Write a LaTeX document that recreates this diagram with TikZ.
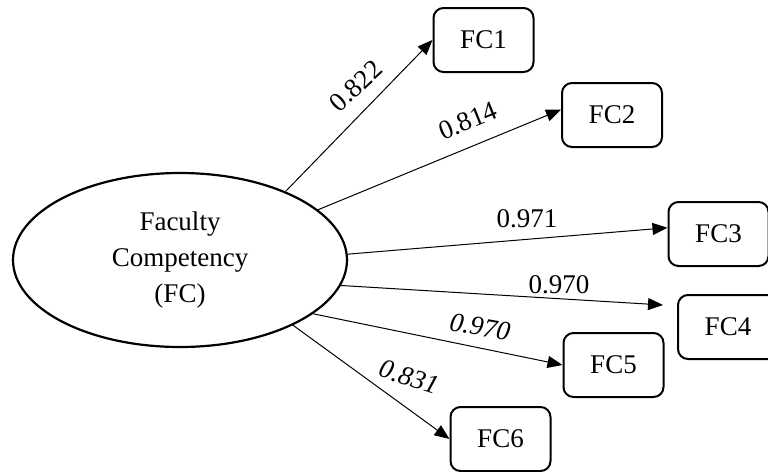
\documentclass[tikz,border=0pt]{standalone}
\usepackage{fontspec}
\setmainfont{Liberation Serif}
\usetikzlibrary{arrows.meta,shapes.geometric}
\begin{document}
\begin{tikzpicture}[x=1pt,y=-1pt,
  every node/.style={font=\fontsize{27}{36}\selectfont},
  latent/.style={ellipse,draw,line width=2.2pt,minimum width=334pt,minimum height=174pt,inner sep=0pt,align=center},
  ind/.style={draw,line width=2pt,rounded corners=10pt,minimum width=100pt,minimum height=64pt,inner sep=0pt},
  path/.style={line width=1pt,-{Triangle[length=15pt,width=12pt]}},
  lab/.style={inner sep=0pt}]
\useasboundingbox (0,0) rectangle (768,471);
\clip (0,0) rectangle (768,471);
\node[latent] (fc) at (180,260) {Faculty\\Competency\\(FC)};
\node[ind] (fc1) at (483.5,40) {FC1};
\node[ind] (fc2) at (612,115) {FC2};
\node[ind] (fc3) at (718.5,234) {FC3};
\node[ind] (fc4) at (728,327) {FC4};
\node[ind] (fc5) at (613.5,365) {FC5};
\node[ind] (fc6) at (500.5,439) {FC6};
\coordinate (e4) at (663,305);
\draw[path] (fc.33) -- (fc1.west);
\draw[path] (fc.20) -- (fc2.174);
\draw[path] (fc.2) -- (fc3.173);
\draw[path] (fc.-9.5) -- (e4);
\draw[path] (fc.-22) -- (fc5.west);
\draw[path] (fc.-30) -- (fc6.west);
\node[lab,rotate=43] (l1) at (356,86) {0.822};
\node[lab,rotate=22] (l2) at (468,121) {0.814};
\node[lab] (l3) at (527,219) {0.971};
\node[lab] (l4) at (559,285) {0.970};
\node[lab,rotate=-10,font=\fontsize{27}{36}\selectfont\itshape] (l5) at (480,327) {0.970};
\node[lab,rotate=-18,font=\fontsize{27}{36}\selectfont\itshape] (l6) at (409,377) {0.831};
\end{tikzpicture}
\end{document}
